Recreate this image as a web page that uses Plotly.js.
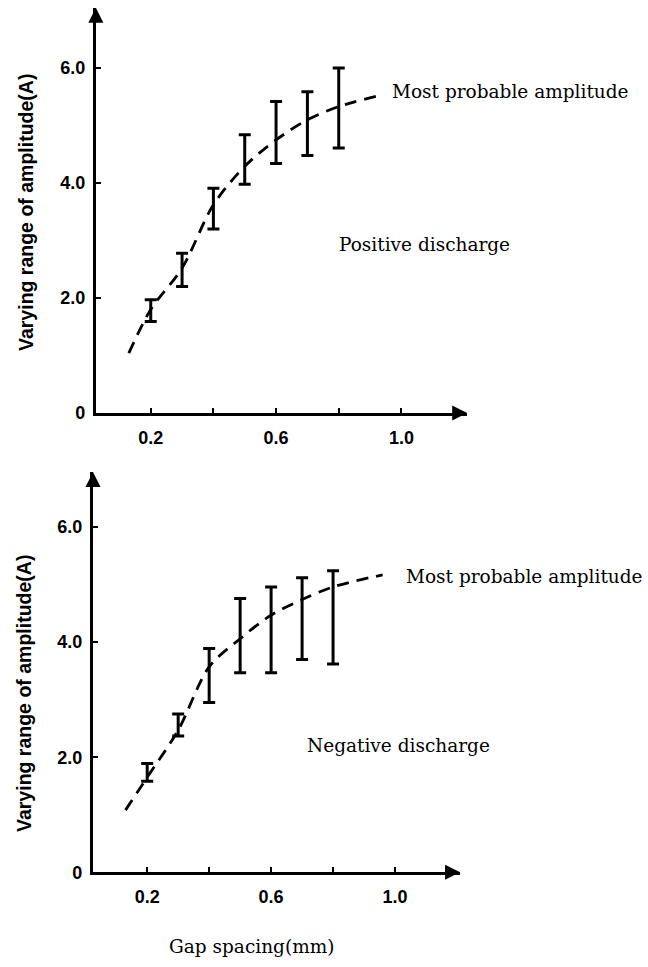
<!DOCTYPE html>
<html><head><meta charset="utf-8">
<script src="https://cdn.plot.ly/plotly-3.0.1.min.js"></script>
<style>html,body{margin:0;padding:0;background:#fff}#c{width:648px;height:967px}</style>
</head><body><div id="c"></div>
<script>
const gapX = [0.2, 0.3, 0.4, 0.5, 0.6, 0.7, 0.8];
const posLow  = [1.59, 2.20, 3.20, 3.98, 4.34, 4.48, 4.61];
const posHigh = [1.97, 2.78, 3.91, 4.84, 5.42, 5.59, 6.00];
const negLow  = [1.58, 2.37, 2.95, 3.47, 3.47, 3.70, 3.62];
const negHigh = [1.89, 2.75, 3.89, 4.76, 4.96, 5.12, 5.24];
const posCurveX = [0.13, 0.2, 0.3, 0.4, 0.5, 0.6, 0.7, 0.8, 0.92];
const posCurveY = [1.04, 1.80, 2.52, 3.62, 4.29, 4.75, 5.10, 5.33, 5.51];
const negCurveX = [0.13, 0.2, 0.3, 0.4, 0.5, 0.6, 0.7, 0.8, 0.96];
const negCurveY = [1.08, 1.65, 2.47, 3.57, 4.06, 4.47, 4.74, 4.96, 5.17];
const xTickVals = [0.2, 0.4, 0.6, 0.8, 1.0];
const xTickText = ['0.2', '', '0.6', '', '1.0'];
const yTickVals = [0, 2, 4, 6];
const yTickText = ['0', '2.0', '4.0', '6.0'];
const yTitle = 'Varying range of amplitude(A)';
const xTitle = 'Gap spacing(mm)';
const curveLabel = 'Most probable amplitude';
const panelLabels = ['Positive discharge', 'Negative discharge'];

const serif = 'DejaVu Serif, serif';
const sans = 'Liberation Sans, Arial, sans-serif';

function bars(low, high, xa, ya) {
  const mid = low.map((l, i) => (l + high[i]) / 2);
  const half = low.map((l, i) => (high[i] - l) / 2);
  return {x: gapX, y: mid, xaxis: xa, yaxis: ya, type: 'scatter', mode: 'markers',
    marker: {size: 1, opacity: 0}, hoverinfo: 'skip', showlegend: false,
    error_y: {type: 'data', symmetric: true, array: half, color: '#000', thickness: 3, width: 6}};
}
function curve(xs, ys, xa, ya) {
  return {x: xs, y: ys, xaxis: xa, yaxis: ya, type: 'scatter', mode: 'lines',
    line: {color: '#000', width: 2.8, dash: '12px,8px', shape: 'spline', smoothing: 0.9},
    showlegend: false, hoverinfo: 'skip'};
}
const data = [
  curve(posCurveX, posCurveY, 'x', 'y'), bars(posLow, posHigh, 'x', 'y'),
  curve(negCurveX, negCurveY, 'x2', 'y2'), bars(negLow, negHigh, 'x2', 'y2')
];
const tickFont = {family: sans, size: 18, color: '#000', weight: 'bold'};
function xax(dom, anchor) {
  return {domain: dom, range: [0.025, 1.21], anchor: anchor, showgrid: false, zeroline: false,
    showline: true, linecolor: '#000', linewidth: 3, ticks: 'inside', ticklen: 5, tickwidth: 2,
    tickcolor: '#000', tickvals: xTickVals, ticktext: xTickText, ticklabelstandoff: 6,
    tickfont: tickFont};
}
function yax(dom, anchor, top) {
  return {domain: dom, range: [0, top], anchor: anchor, showgrid: false, zeroline: false,
    showline: true, linecolor: '#000', linewidth: 3, ticks: 'inside', ticklen: 5, tickwidth: 2,
    tickcolor: '#000', tickvals: yTickVals, ticktext: yTickText, ticklabelstandoff: 4,
    tickfont: tickFont};
}
const ann = [];
function arrows(xa, ya, top) {
  ann.push({x: 1.21, y: 0, xref: xa, yref: ya, ax: -16, ay: 0, showarrow: true, arrowhead: 2,
    arrowsize: 1, arrowwidth: 3, arrowcolor: '#000', text: ''});
  ann.push({x: 0.025, y: top, xref: xa, yref: ya, ax: 0, ay: 16, showarrow: true, arrowhead: 2,
    arrowsize: 1, arrowwidth: 3, arrowcolor: '#000', text: ''});
}
arrows('x', 'y', 7.05);
arrows('x2', 'y2', 6.96);
const labFont = {family: serif, size: 18.5, color: '#000'};
ann.push({x: 0.962, y: 5.6, xref: 'x', yref: 'y', xanchor: 'left', text: curveLabel, showarrow: false, font: labFont});
ann.push({x: 1.073, y: 2.93, xref: 'x', yref: 'y', xanchor: 'center', text: panelLabels[0], showarrow: false, font: labFont});
ann.push({x: 1.03, y: 5.14, xref: 'x2', yref: 'y2', xanchor: 'left', text: curveLabel, showarrow: false, font: labFont});
ann.push({x: 1.01, y: 2.21, xref: 'x2', yref: 'y2', xanchor: 'center', text: panelLabels[1], showarrow: false, font: labFont});
ann.push({x: 251 / 648, y: 0.0217, xref: 'paper', yref: 'paper', xanchor: 'center', yanchor: 'middle',
  text: xTitle, showarrow: false, font: labFont});
const yTitleFont = {family: sans, size: 19.5, color: '#000', weight: 'bold'};
ann.push({x: 26 / 648, y: (967 - 213) / 967, xref: 'paper', yref: 'paper', xanchor: 'center', yanchor: 'middle',
  textangle: -90, text: yTitle, showarrow: false, font: yTitleFont});
ann.push({x: 24 / 648, y: (967 - 694) / 967, xref: 'paper', yref: 'paper', xanchor: 'center', yanchor: 'middle',
  textangle: -90, text: yTitle, showarrow: false, font: yTitleFont});

const layout = {
  width: 648, height: 967, margin: {l: 0, r: 0, t: 0, b: 0},
  paper_bgcolor: '#fff', plot_bgcolor: '#fff',
  xaxis: xax([0.148, 0.721], 'y'),
  yaxis: yax([0.573, 0.992], 'x', 7.05),
  xaxis2: xax([0.1435, 0.710], 'y2'),
  yaxis2: yax([0.098, 0.512], 'x2', 6.96),
  annotations: ann
};
Plotly.newPlot('c', data, layout, {staticPlot: true});
</script></body></html>
